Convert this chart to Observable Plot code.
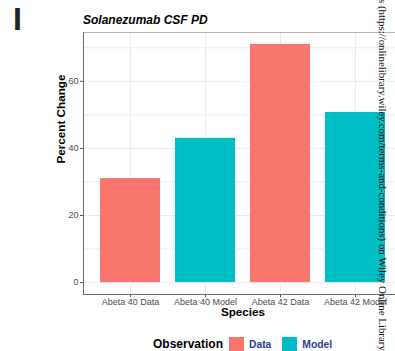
<!DOCTYPE html>
<html>
<head>
<meta charset="utf-8">
<script src="https://cdn.jsdelivr.net/npm/d3@7"></script>
<script src="https://cdn.jsdelivr.net/npm/@observablehq/plot@0.6"></script>
<style>
  html, body { margin: 0; padding: 0; background: #fff; }
  #wrap { position: relative; width: 395px; height: 351px; overflow: hidden; font-family: "Liberation Sans", Arial, sans-serif; }
  #panel { position: absolute; left: 13px; top: 3px; font-size: 32px; font-weight: bold; color: #222; line-height: 1; }
  #title { position: absolute; left: 83px; top: 14px; font-size: 12px; font-weight: bold; font-style: italic; color: #000; line-height: 1; }
  #chart { position: absolute; left: 0; top: 0; width: 402px; height: 351px; }
  #chart svg { max-width: none !important; width: 402px; height: 351px; }
  #legend { position: absolute; left: 153px; top: 337px; display: flex; align-items: center; line-height: 15px; }
  #legend .ttl { font-size: 12px; font-weight: bold; color: #000; margin-right: 6px; }
  #legend .key { width: 15px; height: 15px; display: inline-block; margin-right: 5px; }
  #legend .lab { font-size: 10.3px; font-weight: bold; color: #2c3e91; margin-right: 11px; }
  #wm { position: absolute; left: 377px; top: -1px; writing-mode: vertical-rl; font-family: "Liberation Serif", "Times New Roman", serif; font-size: 10.85px; color: #111; white-space: nowrap; }
</style>
</head>
<body>
<div id="wrap">
  <div id="chart"></div>
  <div id="panel">I</div>
  <div id="title">Solanezumab CSF PD</div>
  <div id="legend"></div>
  <div id="wm">s (https://onlinelibrary.wiley.com/terms-and-conditions) on Wiley Online Library</div>
</div>
<script>
const species = ["Abeta 40 Data", "Abeta 40 Model", "Abeta 42 Data", "Abeta 42 Model"];
const observation = ["Data", "Model", "Data", "Model"];
const percentChange = [31, 43, 71, 50.7];
const yTicks = [0, 20, 40, 60];
const yGrid = [0, 10, 20, 30, 40, 50, 60, 70];
const obsLevels = ["Data", "Model"];
const obsColors = ["#F8766D", "#00BFC4"];

const data = species.map((s, i) => ({species: s, observation: observation[i], value: percentChange[i]}));
const ymax = d3.max(percentChange);
const yDomain = [-0.05 * ymax, ymax * 1.05];

const W = 402, H = 351;
const chart = Plot.plot({
  width: W,
  height: H,
  marginLeft: 83,
  marginRight: 0,
  marginTop: 32,
  marginBottom: 57,
  style: {fontFamily: "Liberation Sans, Arial, sans-serif", color: "#4d4d4d", background: "transparent", maxWidth: "none"},
  x: {domain: species, paddingInner: 0.2, paddingOuter: 0.2, label: null},
  y: {domain: yDomain, label: null},
  color: {domain: obsLevels, range: obsColors},
  marks: [
    Plot.ruleY(yGrid, {stroke: "#ebebeb", strokeWidth: 1}),
    Plot.ruleX(species, {stroke: "#ebebeb", strokeWidth: 1}),
    Plot.frame({stroke: "#b5b5b5", strokeWidth: 1}),
    Plot.barY(data, {x: "species", y: "value", fill: "observation"}),
    Plot.axisY({ticks: yTicks, tickSize: 3, tickPadding: 2, fontSize: 9, label: null, stroke: "#555", fill: "#4d4d4d"}),
    Plot.axisX({tickSize: 3, tickPadding: 1, fontSize: 9, label: null, stroke: "#555", fill: "#4d4d4d"}),
    Plot.ruleY([yDomain[0]], {stroke: "#6a6a6a", strokeWidth: 1}),
    Plot.text(["Percent Change"], {frameAnchor: "left", rotate: -90, dx: -22, fontSize: 11.7, fontWeight: "bold", fill: "#000"}),
    Plot.text(["Species"], {frameAnchor: "bottom", dy: 21, fontSize: 11.7, fontWeight: "bold", fill: "#000"})
  ]
});
chart.style.maxWidth = "none";
document.getElementById("chart").appendChild(chart);

// left axis line (darker) along the panel's left edge
const ys = chart.scale("y");
d3.select(chart).append("line")
  .attr("x1", 83.5).attr("x2", 83.5)
  .attr("y1", ys.range[0]).attr("y2", ys.range[1])
  .attr("stroke", "#6a6a6a").attr("stroke-width", 1);

// legend
const leg = document.getElementById("legend");
const t = document.createElement("span"); t.className = "ttl"; t.textContent = "Observation"; leg.appendChild(t);
obsLevels.forEach((o, i) => {
  const k = document.createElement("span"); k.className = "key"; k.style.background = obsColors[i]; leg.appendChild(k);
  const l = document.createElement("span"); l.className = "lab"; l.textContent = o; leg.appendChild(l);
});
</script>
</body>
</html>
